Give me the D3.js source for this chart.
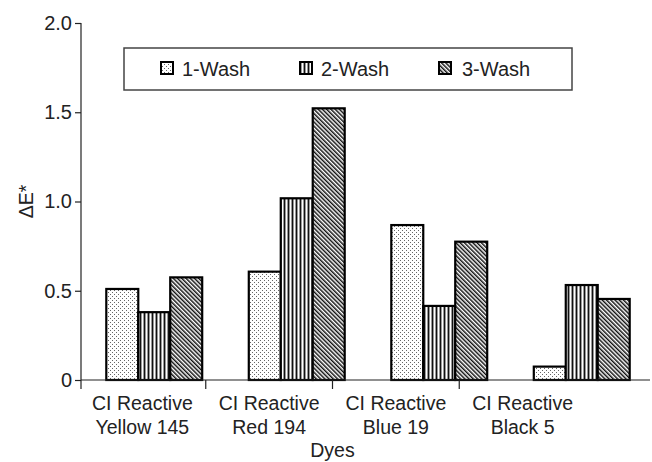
<!DOCTYPE html>
<html><head><meta charset="utf-8">
<script src="https://cdn.jsdelivr.net/npm/d3@7/dist/d3.min.js"></script>
<style>
html,body{margin:0;padding:0;background:#fff;}
svg{display:block;font-family:"Liberation Sans",Arial,sans-serif;}
</style></head>
<body>
<svg id="chart" width="652" height="462"></svg>
<script>
const categories = ["CI Reactive|Yellow 145", "CI Reactive|Red 194", "CI Reactive|Blue 19", "CI Reactive|Black 5"];
const series = ["1-Wash", "2-Wash", "3-Wash"];
const wash1 = [0.51, 0.607, 0.868, 0.075];
const wash2 = [0.38, 1.018, 0.415, 0.532];
const wash3 = [0.575, 1.522, 0.775, 0.454];
const yTicks = [0, 0.5, 1.0, 1.5, 2.0];
const yTickLabels = ["0", "0.5", "1.0", "1.5", "2.0"];
const yLabel = "ΔE*";
const xLabel = "Dyes";

const values = [wash1, wash2, wash3];
const svg = d3.select("#chart");
const defs = svg.append("defs");

// patterns
const p1 = defs.append("pattern").attr("id","pat0").attr("patternUnits","userSpaceOnUse").attr("width",4).attr("height",4);
p1.append("rect").attr("width",4).attr("height",4).attr("fill","#fff");
p1.append("rect").attr("x",0).attr("y",0).attr("width",1).attr("height",1).attr("fill","#666");
p1.append("rect").attr("x",2).attr("y",2).attr("width",1).attr("height",1).attr("fill","#666");

const p2 = defs.append("pattern").attr("id","pat1").attr("patternUnits","userSpaceOnUse").attr("width",4).attr("height",4);
p2.append("rect").attr("width",4).attr("height",4).attr("fill","#999");
p2.append("rect").attr("x",0).attr("width",1).attr("height",4).attr("fill","#111");
p2.append("rect").attr("x",2).attr("width",1).attr("height",4).attr("fill","#fff");

const p3 = defs.append("pattern").attr("id","pat2").attr("patternUnits","userSpaceOnUse").attr("width",3).attr("height",3).attr("patternTransform","rotate(-45)");
p3.append("rect").attr("width",3).attr("height",3).attr("fill","#fff");
p3.append("rect").attr("width",1.5).attr("height",3).attr("fill","#111");

const y = d3.scaleLinear().domain([0, 2]).range([380, 23]);
const xBar = d3.scaleBand().domain(categories).range([83, 653]).paddingInner(0.327).paddingOuter(0.1635);
const xSub = d3.scaleBand().domain(series).range([0, xBar.bandwidth()]);
const xLab = d3.scaleBand().domain(categories).range([79, 586]);

// bars
categories.forEach((c, ci) => {
  series.forEach((s, si) => {
    const v = values[si][ci];
    svg.append("rect")
      .attr("x", xBar(c) + xSub(s))
      .attr("y", y(v))
      .attr("width", xSub.bandwidth())
      .attr("height", y(0) - y(v))
      .attr("fill", `url(#pat${si})`)
      .attr("stroke", "#000")
      .attr("stroke-width", 2.2);
  });
});

// y axis
const yAxis = d3.axisLeft(y).tickValues(yTicks).tickFormat((d,i)=>yTickLabels[i]).tickSize(6).tickPadding(3);
const gy = svg.append("g").attr("transform","translate(81,0)").call(yAxis);
gy.select(".domain").remove();
gy.selectAll(".tick line").attr("stroke","#222").attr("stroke-width",1.2);
gy.selectAll(".tick text").attr("font-size",20).attr("fill","#222").style("font-family","Liberation Sans, Arial, sans-serif");
svg.append("line").attr("x1",81).attr("x2",81).attr("y1",y(2)).attr("y2",389).attr("stroke","#222").attr("stroke-width",1.2);

// x axis
svg.append("line").attr("x1",81).attr("x2",650).attr("y1",y(0)).attr("y2",y(0)).attr("stroke","#222").attr("stroke-width",1.2);
categories.slice(1).forEach(c => {
  svg.append("line").attr("x1",xLab(c)).attr("x2",xLab(c)).attr("y1",y(0)).attr("y2",389).attr("stroke","#222").attr("stroke-width",1.2);
});
categories.forEach(c => {
  const parts = c.split("|");
  const t = svg.append("text").attr("text-anchor","middle").attr("font-size",19.5).attr("fill","#222");
  t.append("tspan").attr("x", xLab(c) + xLab.bandwidth()/2).attr("y", 410).text(parts[0]);
  t.append("tspan").attr("x", xLab(c) + xLab.bandwidth()/2).attr("y", 434).text(parts[1]);
});
svg.append("text").attr("x",(xLab.range()[0]+xLab.range()[1])/2).attr("y",457).attr("text-anchor","middle").attr("font-size",19.5).attr("fill","#222").text(xLabel);

svg.append("text").attr("transform",`translate(33,${(y(0)+y(2))/2}) rotate(-90)`).attr("text-anchor","middle").attr("font-size",19.5).attr("fill","#222").text(yLabel);

// legend
svg.append("rect").attr("x",124).attr("y",48).attr("width",448).attr("height",42).attr("fill","#fff").attr("stroke","#444").attr("stroke-width",1.5);
const legX = [161, 300, 439];
const legTX = [182, 321, 462];
series.forEach((s, si) => {
  svg.append("rect").attr("x",legX[si]).attr("y",62).attr("width",12).attr("height",12).attr("fill",`url(#pat${si})`).attr("stroke","#000").attr("stroke-width",2);
  svg.append("text").attr("x",legTX[si]).attr("y",76).attr("font-size",20).attr("fill","#222").text(s);
});
</script>
</body></html>
